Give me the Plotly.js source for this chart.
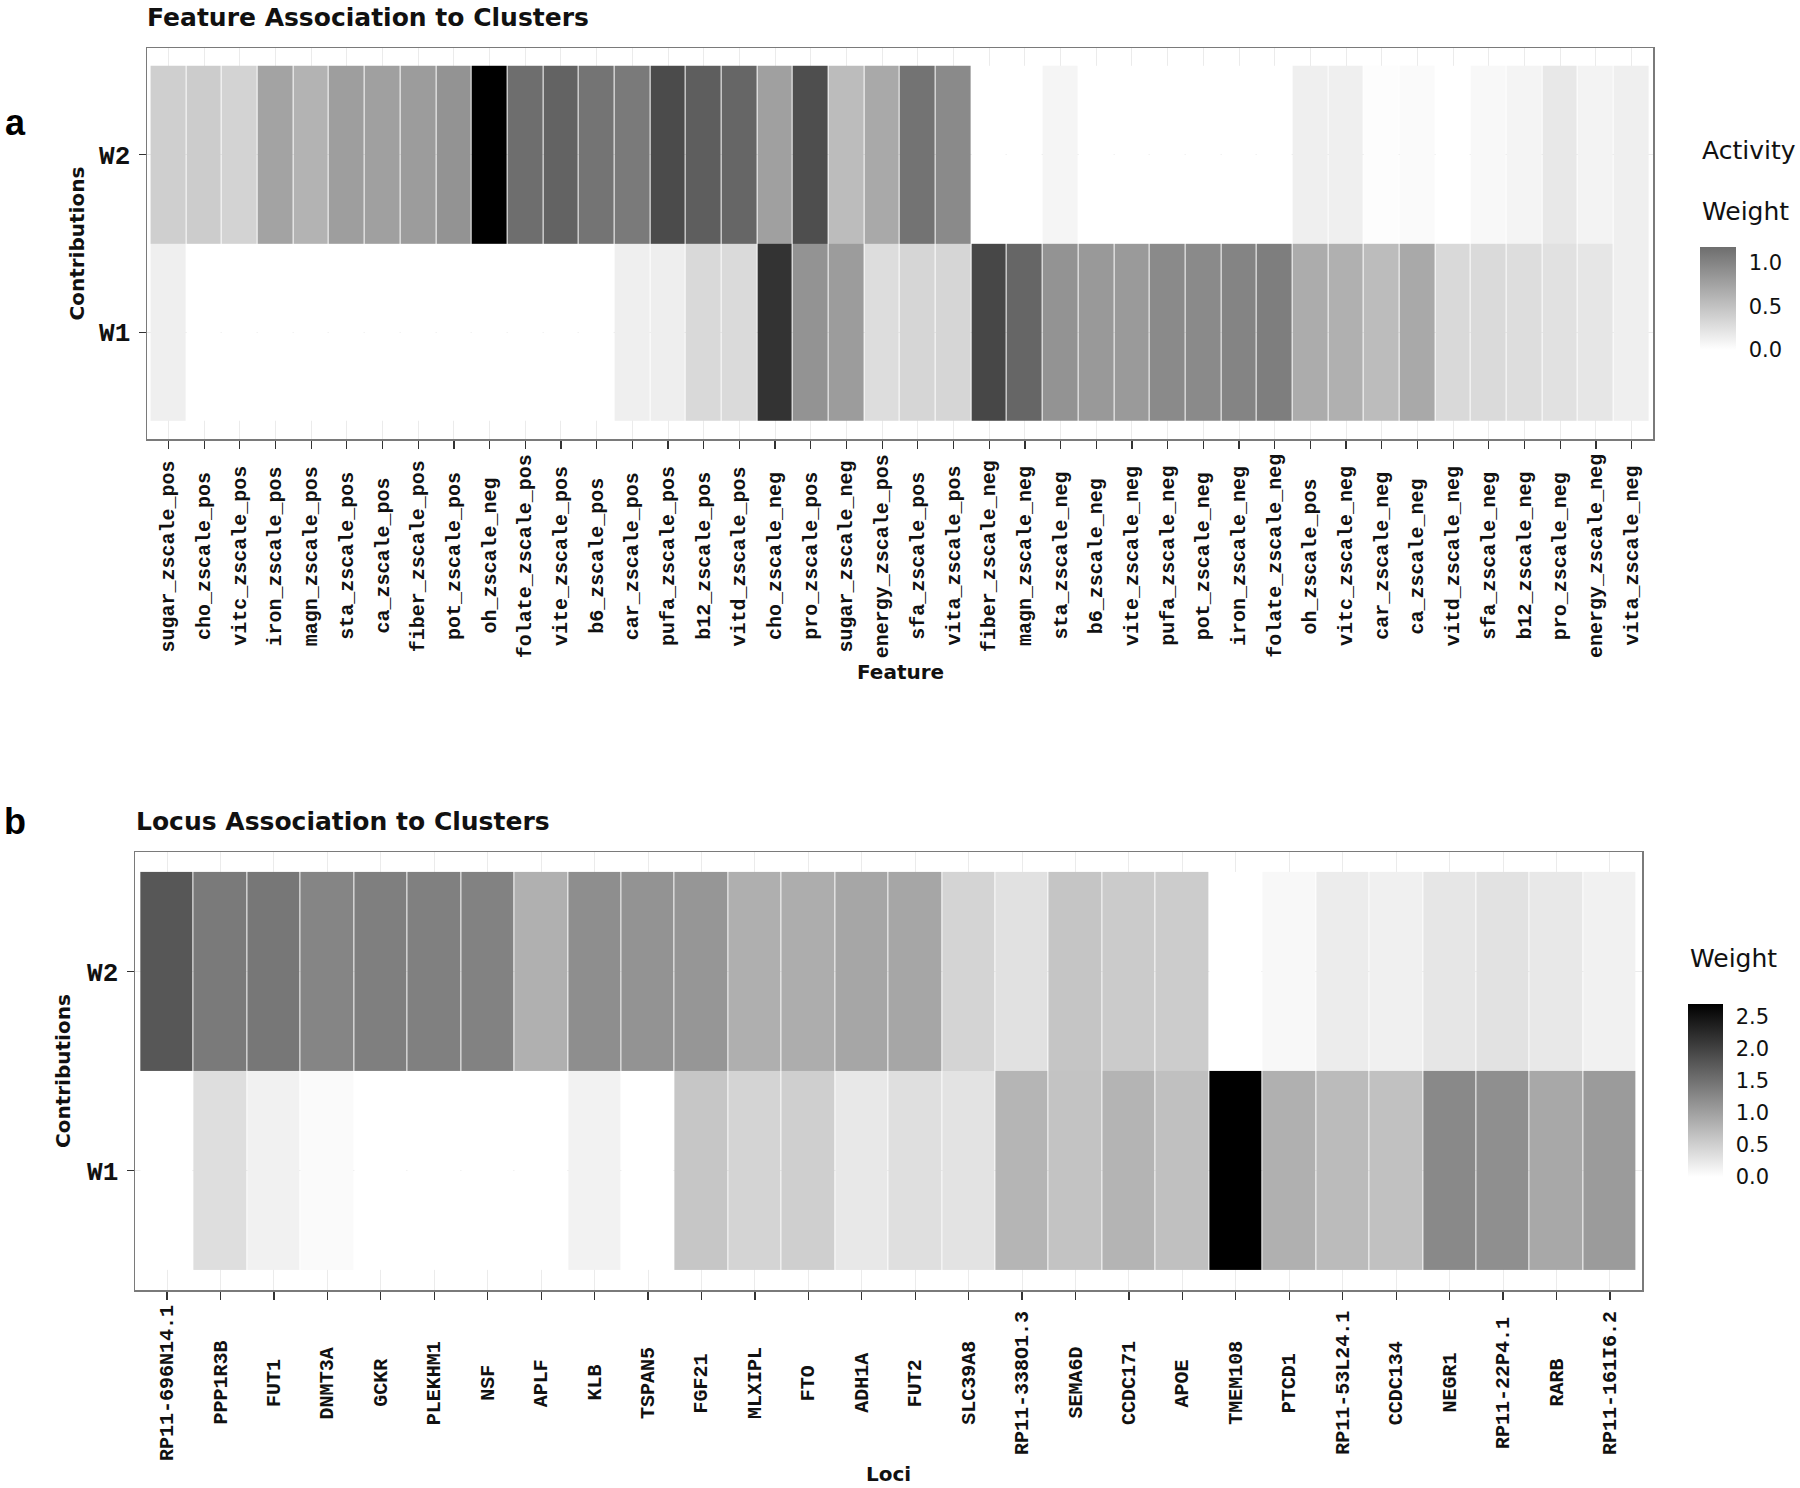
<!DOCTYPE html>
<html>
<head>
<meta charset="utf-8">
<script src="https://cdn.plot.ly/plotly-3.0.1.min.js"></script>
<style>html,body{margin:0;padding:0;background:#fff}#chart{width:1800px;height:1488px}</style>
</head>
<body>
<div id="chart"></div>
<script>
// ---------- data ----------
const rows = ['W1', 'W2'];

const features = [
  'sugar_zscale_pos','cho_zscale_pos','vitc_zscale_pos','iron_zscale_pos','magn_zscale_pos',
  'sta_zscale_pos','ca_zscale_pos','fiber_zscale_pos','pot_zscale_pos','oh_zscale_neg',
  'folate_zscale_pos','vite_zscale_pos','b6_zscale_pos','car_zscale_pos','pufa_zscale_pos',
  'b12_zscale_pos','vitd_zscale_pos','cho_zscale_neg','pro_zscale_pos','sugar_zscale_neg',
  'energy_zscale_pos','sfa_zscale_pos','vita_zscale_pos','fiber_zscale_neg','magn_zscale_neg',
  'sta_zscale_neg','b6_zscale_neg','vite_zscale_neg','pufa_zscale_neg','pot_zscale_neg',
  'iron_zscale_neg','folate_zscale_neg','oh_zscale_pos','vitc_zscale_neg','car_zscale_neg',
  'ca_zscale_neg','vitd_zscale_neg','sfa_zscale_neg','b12_zscale_neg','pro_zscale_neg',
  'energy_zscale_neg','vita_zscale_neg'
];
const featureW2 = [
  0.39,0.41,0.36,0.75,0.62,0.79,0.77,0.80,0.88,2.07,
  1.18,1.27,1.13,1.08,1.46,1.31,1.24,0.77,1.44,0.54,
  0.70,1.14,0.95,0,0,0.08,0,0,0,0,
  0,0,0.13,0.13,0.02,0.04,0,0.06,0.09,0.19,
  0.10,0.13
];
const featureW1 = [
  0.13,0,0,0,0,0,0,0,0,0,
  0,0,0,0.13,0.14,0.31,0.30,1.66,0.88,0.80,
  0.28,0.33,0.33,1.49,1.24,0.88,0.83,0.82,0.95,0.95,
  1.00,1.05,0.67,0.64,0.54,0.70,0.31,0.30,0.28,0.24,
  0.20,0.13
];
const featureMax = 2.07;        // value drawn as black
const featureLegendMax = 1.18;  // top of the "Activity Weight" legend bar
const featureLegendTicks = [0, 0.5, 1.0];

const loci = [
  'RP11-696N14.1','PPP1R3B','FUT1','DNMT3A','GCKR','PLEKHM1','NSF','APLF','KLB','TSPAN5',
  'FGF21','MLXIPL','FTO','ADH1A','FUT2','SLC39A8','RP11-338O1.3','SEMA6D','CCDC171','APOE',
  'TMEM108','PTCD1','RP11-53L24.1','CCDC134','NEGR1','RP11-22P4.1','RARB','RP11-161I6.2'
];
const lociW2 = [
  1.77,1.40,1.43,1.29,1.35,1.34,1.32,0.83,1.19,1.14,
  1.11,0.84,0.87,0.94,0.94,0.45,0.32,0.61,0.55,0.54,
  0,0.07,0.20,0.16,0.26,0.31,0.24,0.15
];
const lociW1 = [
  0,0.35,0.15,0.05,0,0,0,0,0.14,0,
  0.60,0.45,0.51,0.24,0.34,0.30,0.78,0.63,0.79,0.66,
  2.69,0.83,0.72,0.65,1.24,1.18,0.92,1.05
];
const lociMax = 2.69;
const lociLegendTicks = [0, 0.5, 1.0, 1.5, 2.0, 2.5];

// ---------- layout helpers ----------
const W = 1800, H = 1488;
const px = v => v / W;
const py = v => 1 - v / H;
const mono = {family: 'Liberation Mono, Courier New, monospace', size: 20, color: '#111', weight: 'bold'};
const sansB = (s) => ({family: 'DejaVu Sans, sans-serif', size: s, color: '#111', weight: 'bold'});
const sans = (s) => ({family: 'DejaVu Sans, sans-serif', size: s, color: '#111'});

const grayAt = r => { const g = Math.round(255 * (1 - r)); return 'rgb(' + g + ',' + g + ',' + g + ')'; };
const bw = [[0, '#ffffff'], [1, '#000000']];

function cbar(ticks, xLeft, yTop, yBottom, thick) {
  return {
    x: px(xLeft), xanchor: 'left', xpad: 0,
    y: py((yTop + yBottom) / 2), yanchor: 'middle', ypad: 0,
    len: yBottom - yTop, lenmode: 'pixels',
    thickness: thick, thicknessmode: 'pixels',
    outlinewidth: 0,
    tickmode: 'array', tickvals: ticks, ticktext: ticks.map(t => t.toFixed(1)),
    ticks: 'outside', ticklen: 9, tickwidth: 1, tickcolor: 'rgba(0,0,0,0)',
    tickfont: sans(21)
  };
}

const traces = [
  // legend bar of panel a (same cells, only its colour bar is shown)
  {
    type: 'heatmap', x: features, y: rows, z: [featureW1, featureW2],
    xaxis: 'x', yaxis: 'y', zmin: 0, zmax: featureLegendMax, zauto: false,
    colorscale: [[0, '#ffffff'], [1, grayAt(featureLegendMax / featureMax)]],
    opacity: 0, hoverinfo: 'skip', xgap: 1,
    showscale: true, colorbar: cbar(featureLegendTicks, 1700, 247, 350, 36)
  },
  {
    type: 'heatmap', x: features, y: rows, z: [featureW1, featureW2],
    xaxis: 'x', yaxis: 'y', zmin: 0, zmax: featureMax, zauto: false,
    colorscale: bw, showscale: false, xgap: 1
  },
  {
    type: 'heatmap', x: loci, y: rows, z: [lociW1, lociW2],
    xaxis: 'x2', yaxis: 'y2', zmin: 0, zmax: lociMax, zauto: false,
    colorscale: bw, xgap: 1,
    showscale: true, colorbar: cbar(lociLegendTicks, 1688, 1004, 1177, 35)
  }
];

function xAx(l, r, anchor, n) {
  return {
    domain: [px(l), px(r)], anchor: anchor, type: 'category',
    range: [-0.6, n - 1 + 0.6], tickmode: 'linear', tick0: 0, dtick: 1,
    showticklabels: false, ticks: 'outside', ticklen: 8, tickwidth: 1.2, tickcolor: '#333',
    showgrid: true, gridcolor: '#ebebeb', gridwidth: 1,
    showline: true, mirror: true, linecolor: '#7a7a7a', linewidth: 1.5,
    zeroline: false, fixedrange: true
  };
}
function yAx(t, b, anchor) {
  return {
    domain: [py(b), py(t)], anchor: anchor, type: 'category',
    categoryorder: 'array', categoryarray: rows,
    range: [-0.6, 1.6], ticks: 'outside', ticklen: 7, tickwidth: 1.2, tickcolor: '#333',
    tickfont: {family: 'Liberation Mono, Courier New, monospace', size: 26, color: '#111', weight: 'bold'},
    ticklabelstandoff: 3,
    showgrid: true, gridcolor: '#ebebeb',
    showline: true, mirror: true, linecolor: '#7a7a7a', linewidth: 1.5,
    zeroline: false, fixedrange: true
  };
}

const ann = [];
function text(t, x, y, font, extra) {
  ann.push(Object.assign({text: t, x: px(x), y: py(y), xref: 'paper', yref: 'paper',
    showarrow: false, xanchor: 'center', yanchor: 'middle', font: font}, extra || {}));
}
// panel a
text('a', 15, 122, {family: 'Liberation Sans, Arial, sans-serif', size: 36, color: '#000', weight: 'bold'});
text('Feature Association to Clusters', 145, 17, sansB(25), {xanchor: 'left'});
text('Contributions', 77, 243.5, sansB(20), {textangle: -90});
text('Feature', 900, 672, sansB(20));
text('Activity', 1700, 150, sans(25), {xanchor: 'left'});
text('Weight', 1700, 211, sans(25), {xanchor: 'left'});
features.forEach((f, i) => ann.push({text: f, x: i, xref: 'x', y: py(556), yref: 'paper',
  textangle: -90, showarrow: false, xanchor: 'center', yanchor: 'middle', font: mono}));
// panel b
text('b', 15, 822, {family: 'Liberation Sans, Arial, sans-serif', size: 36, color: '#000', weight: 'bold'});
text('Locus Association to Clusters', 134, 821, sansB(25), {xanchor: 'left'});
text('Contributions', 63, 1071, sansB(20), {textangle: -90});
text('Loci', 888, 1474, sansB(20));
text('Weight', 1688, 958, sans(25), {xanchor: 'left'});
loci.forEach((f, i) => ann.push({text: f, x: i, xref: 'x2', y: py(1383), yref: 'paper',
  textangle: -90, showarrow: false, xanchor: 'center', yanchor: 'middle', font: mono}));

const layout = {
  width: W, height: H,
  margin: {l: 0, r: 0, t: 0, b: 0},
  paper_bgcolor: '#ffffff', plot_bgcolor: '#ffffff',
  showlegend: false,
  xaxis: xAx(147, 1653, 'y', features.length),
  yaxis: yAx(48, 439, 'x'),
  xaxis2: xAx(135, 1642, 'y2', loci.length),
  yaxis2: yAx(852, 1290, 'x2'),
  annotations: ann
};

Plotly.newPlot('chart', traces, layout, {displayModeBar: false, staticPlot: true});
</script>
</body>
</html>
